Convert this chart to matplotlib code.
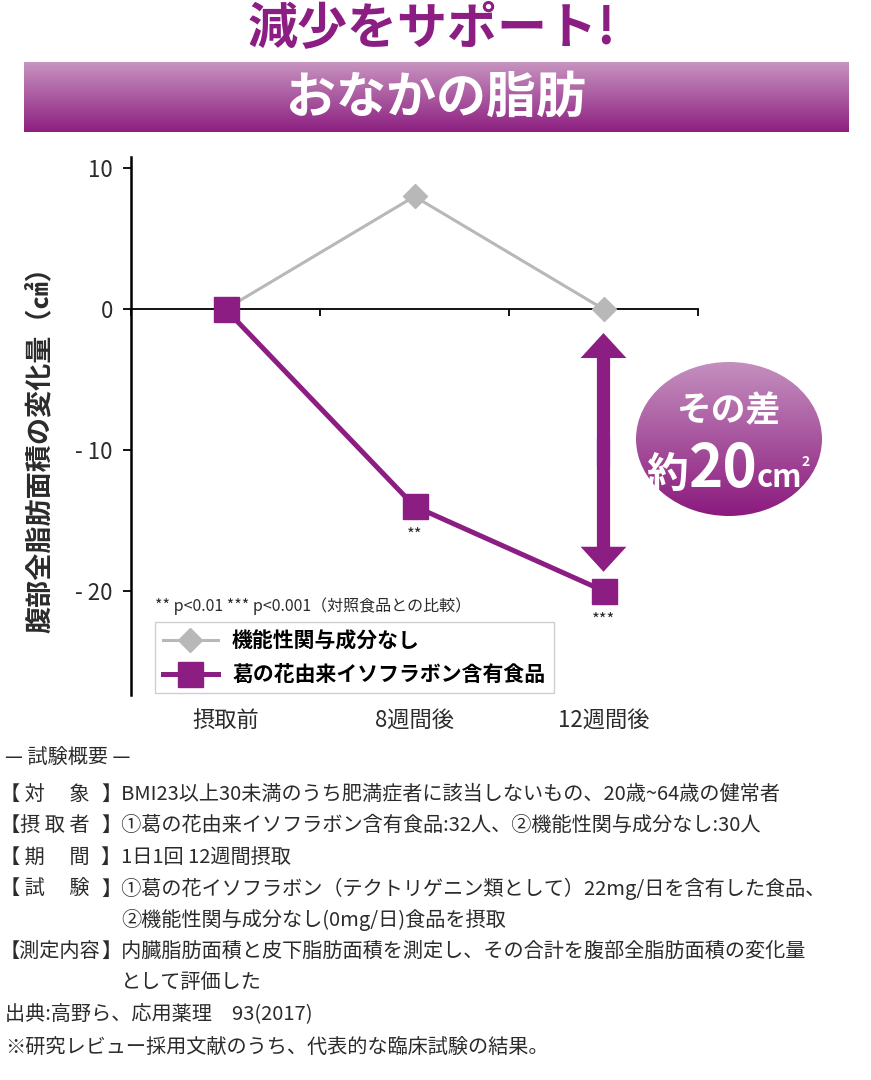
import matplotlib
matplotlib.use("Agg")
import matplotlib.pyplot as plt
import matplotlib.transforms as mtransforms
import numpy as np
from matplotlib.colors import LinearSegmentedColormap
from matplotlib.patches import Ellipse, FancyArrowPatch
from matplotlib.font_manager import FontProperties

plt.rcParams['font.family'] = ['Noto Sans CJK JP', 'DejaVu Sans']
plt.rcParams['axes.unicode_minus'] = False

# --- data ---
timepoints = ["摂取前", "8週間後", "12週間後"]
control_change = [0, 8, 0]
isoflavone_change = [0, -14, -20]
significance = ["", "**", "***"]
y_ticks = [10, 0, -10, -20]
control_label = "機能性関与成分なし"
isoflavone_label = "葛の花由来イソフラボン含有食品"

title_top = "減少をサポート!"
title_banner = "おなかの脂肪"
y_label = "腹部全脂肪面積の変化量（㎠）"
note = "** p<0.01 *** p<0.001（対照食品との比較）"
diff_text = "その差"
diff_prefix = "約"
diff_value = "20"
diff_unit = "cm"
diff_power = "2"

summary_title = "— 試験概要 —"
summary_labels = ["【 対　 象", "【摂 取 者", "【 期　 間", "【 試　 験", "",
                  "【測定内容", ""]
summary_texts = [
    "BMI23以上30未満のうち肥満症者に該当しないもの、20歳~64歳の健常者",
    "①葛の花由来イソフラボン含有食品:32人、②機能性関与成分なし:30人",
    "1日1回 12週間摂取",
    "①葛の花イソフラボン（テクトリゲニン類として）22mg/日を含有した食品、",
    "②機能性関与成分なし(0mg/日)食品を摂取",
    "内臓脂肪面積と皮下脂肪面積を測定し、その合計を腹部全脂肪面積の変化量",
    "として評価した",
]
footer_lines = ["出典:高野ら、応用薬理　93(2017)",
                "※研究レビュー採用文献のうち、代表的な臨床試験の結果。"]

PURPLE = "#8c1d82"
GRAY = "#b8b8b8"
TEXT = "#2b2b2b"
W, H = 871, 1080


def fx(px):
    return px / W


def fy(py):
    return 1 - py / H


fig = plt.figure(figsize=(W / 100, H / 100), dpi=100)

# --- main chart ---
ax = fig.add_axes([fx(131), fy(695), (698 - 131) / W, (695 - 157) / H])
xs = np.arange(len(timepoints)) + 0.5
ax.plot(xs, control_change, color=GRAY, lw=2.2, marker="D", ms=12,
        label=control_label, zorder=3)
ax.plot(xs, isoflavone_change, color=PURPLE, lw=3.6, marker="s", ms=18,
        label=isoflavone_label, zorder=4)

ax.set_xlim(0, len(timepoints))
ax.set_ylim(-27.4, 10.8)
for s in ["top", "right"]:
    ax.spines[s].set_visible(False)
ax.spines["bottom"].set_position(("data", 0))
ax.spines["left"].set_linewidth(1.8)
ax.spines["bottom"].set_linewidth(1.3)
ax.set_xticks(np.arange(len(timepoints) + 1))
ax.set_xticklabels([])
ax.tick_params(axis="x", direction="out", length=5, width=1.3)
ax.set_yticks(y_ticks)
ax.set_yticklabels([str(t).replace("-", "- ") for t in y_ticks])
ax.tick_params(axis="y", direction="out", length=6, width=1.3,
               labelsize=16, pad=7, labelcolor=TEXT)

# category labels under the plot
cat_tr = mtransforms.blended_transform_factory(ax.transData, fig.transFigure)
for xi, lab in zip(xs, timepoints):
    ax.text(xi, fy(720), lab, transform=cat_tr, ha="center", va="center",
            fontsize=16, color=TEXT)

# significance marks
for xi, yi, s in zip(xs, isoflavone_change, significance):
    if s:
        ax.annotate(s, (xi, yi), xytext=(0, -21), textcoords="offset points",
                    ha="center", va="center", fontsize=12, color=TEXT)

# difference arrow at the last time point
arrow_top = control_change[-1] - 1.7
arrow_bottom = isoflavone_change[-1] + 1.35
arrow_mid = (arrow_top + arrow_bottom) / 2
style = "simple,head_length=18,head_width=33,tail_width=9.5"
for start, end in ((arrow_mid - 1, arrow_top), (arrow_mid + 1, arrow_bottom)):
    ax.add_patch(FancyArrowPatch((xs[-1], start), (xs[-1], end),
                                 arrowstyle=style, mutation_scale=1,
                                 color=PURPLE, lw=0, shrinkA=0, shrinkB=0,
                                 clip_on=False, zorder=5))

leg = ax.legend(loc="upper left", bbox_to_anchor=(fx(155), fy(622)),
                bbox_transform=fig.transFigure, borderaxespad=0,
                fancybox=False, edgecolor="#cfcfcf", framealpha=1,
                prop=FontProperties(family=["Noto Sans CJK JP", "DejaVu Sans"],
                                    weight="bold", size=15),
                handlelength=2.6, handletextpad=0.7, labelspacing=0.6,
                borderpad=0.4)
leg.get_frame().set_linewidth(1)

# --- overlay in pixel coordinates ---
ov = fig.add_axes([0, 0, 1, 1], zorder=5)
ov.axis("off")

grad = np.linspace(0, 1, 256).reshape(-1, 1)
banner_cmap = LinearSegmentedColormap.from_list("banner", ["#c794c0", "#8d1f80"])
ov.imshow(grad, extent=(24, 848, 132, 62), cmap=banner_cmap, aspect="auto")

ell = Ellipse((729, 439), 186, 154, facecolor="none", edgecolor="none")
ov.add_patch(ell)
circ_cmap = LinearSegmentedColormap.from_list("circ", ["#c48fbe", "#8b1a7e"])
im = ov.imshow(grad, extent=(636, 822, 516, 362), cmap=circ_cmap, aspect="auto")
im.set_clip_path(ell)

ov.set_xlim(0, W)
ov.set_ylim(H, 0)

ov.text(432, 30, title_top, ha="center", va="center", fontsize=36,
        fontweight="bold", color=PURPLE)
ov.text(436, 98, title_banner, ha="center", va="center", fontsize=36,
        fontweight="bold", color="white")

ov.text(40, 443, y_label, rotation=90, ha="center", va="center",
        fontsize=19.5, fontweight="bold", color=TEXT)
ov.text(155, 606, note, ha="left", va="center", fontsize=11.5, color=TEXT)

# circle text
ov.text(729, 411, diff_text, ha="center", va="center", fontsize=25,
        fontweight="bold", color="white")
ov.text(646, 487, diff_prefix, ha="left", va="baseline", fontsize=30,
        fontweight="bold", color="white")
ov.text(689, 487, diff_value, ha="left", va="baseline", fontsize=42,
        fontweight="bold", color="white")
ov.text(757, 487, diff_unit, ha="left", va="baseline", fontsize=22,
        fontweight="bold", color="white")
ov.text(801, 466, diff_power, ha="left", va="baseline", fontsize=10,
        fontweight="bold", color="white")

# --- study summary ---
fs = 14.5
ov.text(5, 757, summary_title, ha="left", va="center", fontsize=fs, color=TEXT)
row_y = 794
for lab, txt in zip(summary_labels, summary_texts):
    if lab:
        ov.text(0, row_y, lab, ha="left", va="center", fontsize=fs, color=TEXT)
        ov.text(101, row_y, "】" + txt, ha="left", va="center", fontsize=fs,
                color=TEXT)
    else:
        ov.text(121, row_y, txt, ha="left", va="center", fontsize=fs, color=TEXT)
    row_y += 31.5
for line in footer_lines:
    ov.text(5, row_y, line, ha="left", va="center", fontsize=fs, color=TEXT)
    row_y += 32.5

fig.savefig("out.png", dpi=100, facecolor="white")
